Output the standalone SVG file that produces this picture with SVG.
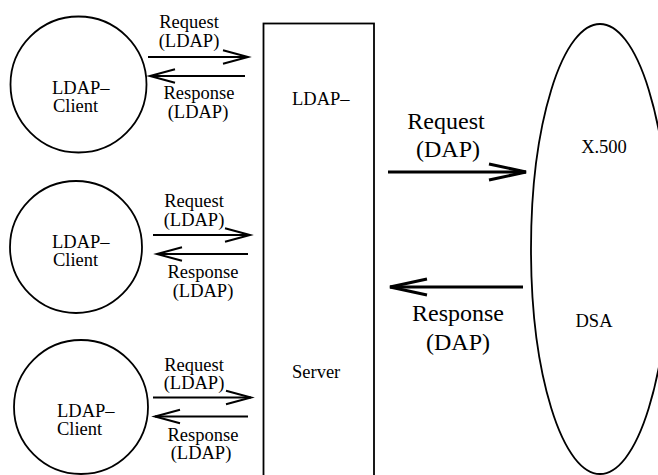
<svg xmlns="http://www.w3.org/2000/svg" width="658" height="475" viewBox="0 0 658 475">
<style>
  .shape { fill: none; stroke: #000; stroke-width: 1.8; }
  .t { font-family: "Liberation Serif", "Times New Roman", serif; fill: #000; font-size: 18.5px; }
  .big { font-size: 24px; }
  .mid { text-anchor: middle; }
  .sm { fill: none; stroke: #000; stroke-width: 2; }
  .lg { fill: none; stroke: #000; stroke-width: 3; }
</style>
<defs>
  <marker id="ah-s" markerUnits="userSpaceOnUse" markerWidth="40" markerHeight="30" refX="30" refY="15" orient="auto" overflow="visible">
    <path d="M5,8.3 L30,15 L5,21.7" fill="none" stroke="#000" stroke-width="2"/>
  </marker>
  <marker id="ah-l" markerUnits="userSpaceOnUse" markerWidth="50" markerHeight="30" refX="40" refY="15" orient="auto" overflow="visible">
    <path d="M3,7 L40,15 L3,23" fill="none" stroke="#000" stroke-width="3"/>
  </marker>
</defs>

<g id="client1">
  <circle class="shape" cx="78.5" cy="84.5" r="68"/>
  <text class="t" x="52" y="94">LDAP–</text>
  <text class="t" x="53" y="112">Client</text>
</g>
<g id="client2">
  <circle class="shape" cx="76" cy="247" r="66"/>
  <text class="t" x="52" y="248">LDAP–</text>
  <text class="t" x="53" y="266">Client</text>
</g>
<g id="client3">
  <circle class="shape" cx="81" cy="407" r="67"/>
  <text class="t" x="57" y="417">LDAP–</text>
  <text class="t" x="57" y="435">Client</text>
</g>
<g id="server">
  <rect class="shape" x="263.5" y="23.5" width="110.5" height="500"/>
  <text class="t" x="292" y="105">LDAP–</text>
  <text class="t" x="292" y="378">Server</text>
</g>
<g id="dsa">
  <ellipse class="shape" cx="600" cy="249" rx="69" ry="225"/>
  <text class="t mid" x="604" y="153">X.500</text>
  <text class="t mid" x="594" y="327">DSA</text>
</g>

<g id="connectors">
  <line class="sm" x1="148" y1="57" x2="248" y2="57" marker-end="url(#ah-s)"/>
  <line class="sm" x1="245" y1="76" x2="150" y2="76" marker-end="url(#ah-s)"/>
  <text class="t mid" x="189" y="28">Request</text>
  <text class="t mid" x="189" y="47">(LDAP)</text>
  <text class="t mid" x="199" y="99">Response</text>
  <text class="t mid" x="198" y="118">(LDAP)</text>

  <line class="sm" x1="153" y1="235" x2="250" y2="235" marker-end="url(#ah-s)"/>
  <line class="sm" x1="248" y1="254" x2="157" y2="254" marker-end="url(#ah-s)"/>
  <text class="t mid" x="194" y="207">Request</text>
  <text class="t mid" x="194" y="226">(LDAP)</text>
  <text class="t mid" x="203" y="278">Response</text>
  <text class="t mid" x="203" y="297">(LDAP)</text>

  <line class="sm" x1="153" y1="397.5" x2="251" y2="397.5" marker-end="url(#ah-s)"/>
  <line class="sm" x1="248" y1="416.5" x2="155" y2="416.5" marker-end="url(#ah-s)"/>
  <text class="t mid" x="194" y="371">Request</text>
  <text class="t mid" x="194" y="389">(LDAP)</text>
  <text class="t mid" x="203" y="441">Response</text>
  <text class="t mid" x="201" y="459">(LDAP)</text>

  <line class="lg" x1="388" y1="172" x2="526" y2="172" marker-end="url(#ah-l)"/>
  <line class="lg" x1="523" y1="287" x2="390" y2="287" marker-end="url(#ah-l)"/>
  <text class="t big mid" x="446" y="129">Request</text>
  <text class="t big mid" x="448" y="157">(DAP)</text>
  <text class="t big mid" x="458" y="321">Response</text>
  <text class="t big mid" x="458" y="350">(DAP)</text>
</g>
</svg>
